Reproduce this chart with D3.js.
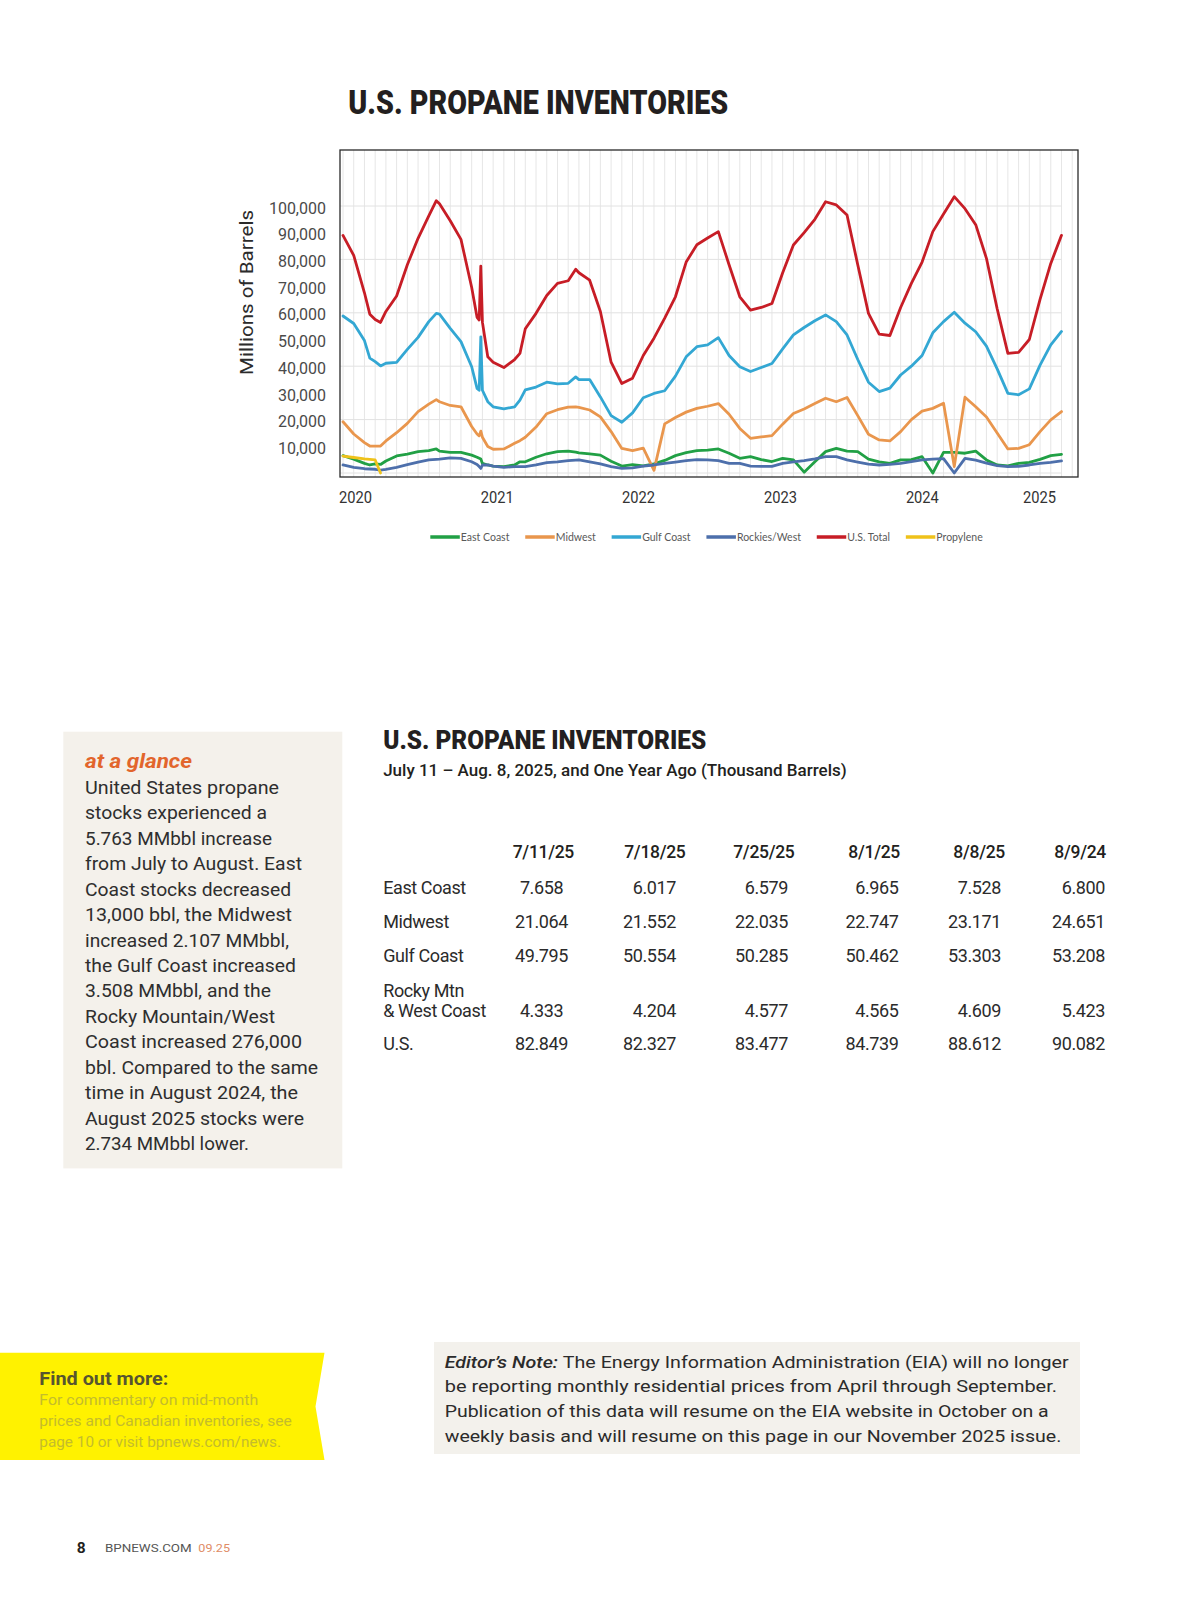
<!DOCTYPE html>
<html><head><meta charset="utf-8">
<script src="https://cdn.jsdelivr.net/npm/d3@7"></script>
<style>
html,body{margin:0;padding:0;background:#fff;}
svg{display:block;font-family:Roboto,"Noto Sans",sans-serif;}
</style></head><body>
<svg id="page" width="1200" height="1600"></svg>
<script>
// ================= DATA =================
// x position of each observation, in chart periods (one vertical gridline per period)
const period = [0,1,2,2.5,3,3.5,4,5,6,7,8,8.7,9,10,11,12,12.5,12.7,12.85,13,13.5,14,15,16,16.5,17,18,19,20,21,21.7,22,23,24,25,26,27,28,29,30,31,32,33,34,35,36,37,38,39,40,41,42,43,44,45,46,47,48,49,50,51,52,53,54,55,56,57,58,59,60,61,62,63,64,65,66,67];

const eastCoast = [6500,5200,3600,3000,3400,3200,4500,6400,7100,8000,8400,9000,8200,7700,7700,6700,5900,5500,5200,3600,3000,2600,2400,3000,4200,4200,5900,7200,8000,8200,7800,7500,7200,6700,4400,2600,3100,2700,3400,4700,6500,7600,8400,8600,9000,7400,5500,6100,5000,4300,5500,4900,300,4200,8000,9200,8200,8000,5200,4200,3600,4900,5000,6100,0,7700,7700,7400,8200,4900,3000,2700,3600,4000,5100,6500,7000];

const midwest = [19200,14600,11400,10100,10100,10100,12000,15100,18600,23000,25800,27500,26700,25300,24800,17400,14600,13900,15700,13400,9900,8900,9000,11100,12100,13400,17200,22200,23700,24700,24800,24600,23600,21000,15500,9200,8400,9300,1000,18400,20800,22800,24200,25000,26000,22000,16700,13000,13500,14000,18300,22300,24000,26000,28000,26700,28300,21500,14500,12400,12000,15500,20000,23200,24200,26100,2400,28400,24800,21000,15000,9000,9200,10600,15500,19900,23000];

const gulfCoast = [58800,56000,49600,43000,41700,40100,41100,41400,46300,50800,56700,59800,59500,54200,49200,39800,31700,31000,51000,31000,26700,24800,24000,24800,27300,31100,32200,34000,33400,33600,36000,35000,35000,28500,21500,19000,22500,28200,29800,30800,36300,43500,47300,48000,50700,44000,39800,38000,39500,41000,46500,51700,54500,57000,59200,56700,51700,42500,34000,30500,31800,36700,40000,44000,52500,56700,60200,56100,52900,47500,39000,29800,29300,31500,40400,48000,53000];

const rockiesWest = [3000,2100,1600,1500,1400,1100,1400,2100,3100,4100,4900,5100,5200,5700,5500,4200,3200,2400,1700,3000,3000,2600,2100,2400,2400,2400,3000,3900,4200,4600,4800,4900,4200,3400,2400,1700,1900,2600,3000,3600,4100,4600,5000,4900,4600,3600,3600,2600,2500,2500,3600,4200,4600,5300,6100,6100,4900,4100,3300,3000,3200,3600,4300,4900,5200,5400,0,5500,4800,3700,2800,2400,2500,3000,3600,4000,4500];

const usTotal = [89000,81500,67500,59500,57500,56400,60500,66300,78000,87900,96300,102000,100800,94500,87500,69500,58300,57300,77500,56500,43500,41500,39500,42500,44800,54000,59800,66500,71000,72000,76300,75000,72200,60500,41500,33500,35500,44000,50500,58000,66000,79000,85500,88000,90400,78000,66000,61000,62000,63500,75000,85400,90000,95000,101600,100400,96600,78000,59800,52000,51500,62000,71000,79000,90400,97000,103500,99000,93000,80400,61500,44800,45200,50000,65000,78500,89000];

const propylene = [6300,5800,5300,5100,4900,0]; // series stops after the first observations

const seriesNames = ["East Coast","Midwest","Gulf Coast","Rockies/West","U.S. Total","Propylene"];
const yearLabels = ["2020","2021","2022","2023","2024","2025"];
const yearTickPeriods = [1.12,14.34,27.5,40.76,53.98,64.9];
const yTickValues = [10000,20000,30000,40000,50000,60000,70000,80000,90000,100000];

// table
const tableTitle = "U.S. PROPANE INVENTORIES";
const tableSubtitle = "July 11 \u2013 Aug. 8, 2025, and One Year Ago (Thousand Barrels)";
const tableDates = ["7/11/25","7/18/25","7/25/25","8/1/25","8/8/25","8/9/24"];
const tableRegions = [["East Coast"],["Midwest"],["Gulf Coast"],["Rocky Mtn","& West Coast"],["U.S."]];
const tblEastCoast = [7.658,6.017,6.579,6.965,7.528,6.800];
const tblMidwest   = [21.064,21.552,22.035,22.747,23.171,24.651];
const tblGulfCoast = [49.795,50.554,50.285,50.462,53.303,53.208];
const tblRockyWest = [4.333,4.204,4.577,4.565,4.609,5.423];
const tblUS        = [82.849,82.327,83.477,84.739,88.612,90.082];

const sidebarLines = ["United States propane","stocks experienced a","5.763 MMbbl increase","from July to August. East","Coast stocks decreased","13,000 bbl, the Midwest","increased 2.107 MMbbl,","the Gulf Coast increased","3.508 MMbbl, and the","Rocky Mountain/West","Coast increased 276,000","bbl. Compared to the same","time in August 2024, the","August 2025 stocks were","2.734 MMbbl lower."];
const findMoreLines = ["For commentary on mid-month","prices and Canadian inventories, see","page 10 or visit bpnews.com/news."];
const noteLines = ["The Energy Information Administration (EIA) will no longer","be reporting monthly residential prices from April through September.","Publication of this data will resume on the EIA website in October on a","weekly basis and will resume on this page in our November 2025 issue."];

// ================= STYLE / LAYOUT =================
const colors = {"East Coast":"#21a045","Midwest":"#e9964d","Gulf Coast":"#33a7d3","Rockies/West":"#4d6fab","U.S. Total":"#c71d26","Propylene":"#efc21a"};
const ink = "#231f20";
const svg = d3.select("#page");

function fitText(sel, len, adjust){ if(len) sel.attr("textLength", len).attr("lengthAdjust", adjust||"spacingAndGlyphs"); return sel; }
function label(parent, str, x, y, o){
  o = o||{};
  const t = parent.append("text").attr("x",x).attr("y",y).text(str)
    .attr("font-size",o.size||16).attr("fill",o.fill||ink)
    .attr("font-weight",o.weight||400).attr("text-anchor",o.anchor||"start");
  if(o.style) t.attr("font-style",o.style);
  if(o.family) t.attr("font-family",o.family);
  if(o.ls!=null) t.attr("letter-spacing",o.ls);
  return fitText(t,o.len,o.adjust);
}

// ---------- top chart ----------
label(svg,"U.S. PROPANE INVENTORIES",348.3,113.5,{size:33,weight:900,len:380});

const frame = {left:340,right:1078,top:150,bottom:477};
const x = d3.scaleLinear().domain([0,67]).range([343,1061.5]);
const y = d3.scaleLinear().domain([0,100000]).range([473,206]);

const chart = svg.append("g");
// vertical gridlines every period
chart.append("g").selectAll("line").data(d3.range(0,69)).join("line")
  .attr("x1",d=>x(d)).attr("x2",d=>x(d)).attr("y1",frame.top).attr("y2",frame.bottom)
  .attr("stroke","#e6e6e6").attr("stroke-width",1);
// horizontal gridlines every 20,000
chart.append("g").selectAll("line").data(d3.range(0,100001,20000)).join("line")
  .attr("x1",frame.left).attr("x2",x(67)).attr("y1",d=>y(d)).attr("y2",d=>y(d))
  .attr("stroke","#e2e2e2").attr("stroke-width",1);

// axes
const yAxis = chart.append("g").attr("transform",`translate(${frame.left},0)`)
  .call(d3.axisLeft(y).tickValues(yTickValues).tickFormat(d3.format(",")).tickSize(0).tickPadding(14));
yAxis.select(".domain").remove();
yAxis.selectAll("text").attr("font-size",16).attr("fill","#4a4a4a").attr("font-family","Roboto,sans-serif").attr("transform","translate(0,2)");

const xAxis = chart.append("g").attr("transform",`translate(0,${frame.bottom})`)
  .call(d3.axisBottom(x).tickValues(yearTickPeriods).tickFormat((d,i)=>yearLabels[i]).tickSize(0).tickPadding(14));
xAxis.select(".domain").remove();
xAxis.selectAll("text").attr("font-size",17).attr("fill","#333").attr("font-family","Roboto,sans-serif")
  .attr("textLength",33).attr("lengthAdjust","spacingAndGlyphs");

label(svg,"Millions of Barrels",0,0,{size:19,fill:"#2b2b2b",anchor:"middle",len:165})
  .attr("transform","translate(253,292.5) rotate(-90)");

// series
const seriesValues = [eastCoast,midwest,gulfCoast,rockiesWest,usTotal,propylene];
const line = d3.line().defined(d=>d.v!=null).x(d=>x(d.t)).y(d=>y(d.v));
seriesNames.forEach((name,k)=>{
  const pts = period.map((t,i)=>({t, v: seriesValues[k][i]==null?null:seriesValues[k][i]})).filter(d=>d.v!=null);
  chart.append("path").datum(pts).attr("d",line).attr("fill","none")
    .attr("stroke",colors[name]).attr("stroke-width",2.8)
    .attr("stroke-linejoin","round").attr("stroke-linecap","round");
});

chart.append("rect").attr("x",frame.left).attr("y",frame.top)
  .attr("width",frame.right-frame.left).attr("height",frame.bottom-frame.top)
  .attr("fill","none").attr("stroke","#2a2a2a").attr("stroke-width",1.3);

// legend
const legend = svg.append("g").attr("transform","translate(0,537)");
let cx = 0;
const items = [];
seriesNames.forEach(name=>{
  const g = legend.append("g").attr("transform",`translate(${cx},0)`);
  g.append("line").attr("x1",0).attr("x2",29.5).attr("y1",0).attr("y2",0)
    .attr("stroke",colors[name]).attr("stroke-width",3.5);
  const t = g.append("text").attr("x",30.5).attr("y",3.8).text(name)
    .attr("font-size",10.5).attr("fill","#595959").attr("font-family","Lato,'Open Sans',sans-serif");
  const w = t.node().getComputedTextLength();
  cx += 30.5 + w + 15.8;
});
const legendWidth = cx - 15.8;
legend.attr("transform",`translate(${706.5 - legendWidth/2},537)`);

// ---------- sidebar ----------
svg.append("rect").attr("x",63.3).attr("y",731.7).attr("width",279).attr("height",436.7).attr("fill","#f4f1eb");
label(svg,"at a glance",85,768,{size:21,weight:700,style:"italic",fill:"#e2652c",len:107});
const sideW = [194,182,187,217,206,207,204,211,186,190,217,233,213,219,164];
sidebarLines.forEach((s,i)=>label(svg,s,85,794+i*25.43,{size:18.6,fill:"#2e2e2e",len:sideW[i]}));

// ---------- table ----------
label(svg,tableTitle,383.2,748.5,{size:26,weight:900,len:323});
label(svg,tableSubtitle,383.2,775.5,{size:17,weight:500,len:463.5});
const headRight = [574,685.5,794.5,900,1005,1106];
tableDates.forEach((d,i)=>label(svg,d,headRight[i],857.5,{size:17.5,weight:500,anchor:"end",ls:-0.3}));
const rowBase = [894,928,962.3,1016.7,1050];
const tblRows = [tblEastCoast,tblMidwest,tblGulfCoast,tblRockyWest,tblUS];
const valAnchorX = [541.5,676,788,898.5,1001,1105];
const fmt = d3.format(".3f");
tableRegions.forEach((parts,r)=>{
  parts.forEach((p,j)=>label(svg,p,383.2,rowBase[r]-(parts.length-1-j)*20,{size:18,fill:"#2b2b2b",ls:-0.4}));
  tblRows[r].forEach((v,c)=>label(svg,fmt(v),valAnchorX[c],rowBase[r],{size:18,fill:"#2b2b2b",anchor:c===0?"middle":"end",ls:-0.4}));
});

// ---------- find out more banner ----------
svg.append("polygon").attr("points","0,1352.7 324.5,1352.7 315.5,1406.5 324.5,1460 0,1460").attr("fill","#fff200");
label(svg,"Find out more:",39.3,1384.5,{size:19,weight:700,fill:"#57552f",len:129});
const findW = [219,252.4,241.7];
findMoreLines.forEach((s,i)=>label(svg,s,39.3,1405+i*20.8,{size:15.5,fill:"#c4bc2c",len:findW[i]}));

// ---------- editor's note ----------
svg.append("rect").attr("x",434).attr("y",1342).attr("width",646).attr("height",112).attr("fill","#f3f1ec");
const n1 = svg.append("text").attr("x",444.7).attr("y",1367.5).attr("font-size",17).attr("fill","#2b2b2b");
n1.append("tspan").attr("font-style","italic").attr("font-weight",500).text("Editor\u2019s Note: ");
n1.append("tspan").text(noteLines[0]);
fitText(n1,624);
const noteW = [612.3,604,616.6];
noteLines.slice(1).forEach((s,i)=>label(svg,s,444.7,1392.3+i*24.8,{size:17,fill:"#2b2b2b",len:noteW[i]}));

// ---------- footer ----------
label(svg,"8",76.7,1552.7,{size:15.5,weight:700});
label(svg,"BPNEWS.COM",105,1552.3,{size:11.5,fill:"#555",len:86.7});
label(svg,"09.25",198.3,1552.3,{size:11.5,fill:"#e08c66",len:31.7});
</script>
</body></html>
